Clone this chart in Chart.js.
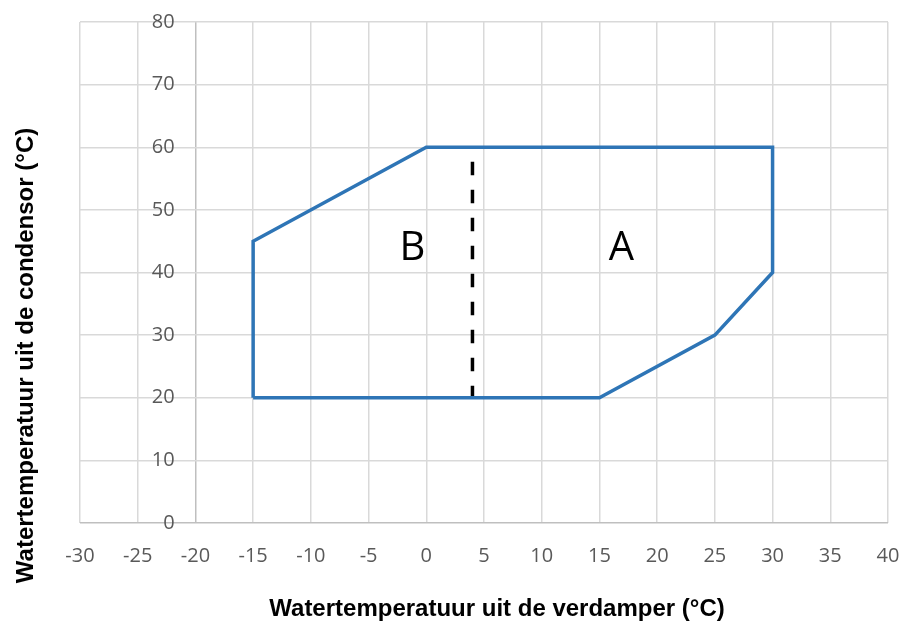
<!DOCTYPE html>
<html><head><meta charset="utf-8">
<script src="https://cdn.jsdelivr.net/npm/chart.js@4.4.0/dist/chart.umd.min.js"></script>
<style>html,body{margin:0;padding:0;background:#fff}canvas{display:block}</style>
</head><body>
<canvas id="c" width="902" height="621"></canvas>
<script>
const xTickValues = [-30,-25,-20,-15,-10,-5,0,5,10,15,20,25,30,35,40];
const yTickValues = [0,10,20,30,40,50,60,70,80];
const envelopeX = [-15,-15,0,30,30,25,15,-15];
const envelopeY = [20,45,60,60,40,30,20,20];
const splitX = [4,4];
const splitY = [57.7,20];
const regionNames = ['B','A'];
const regionX = [-1.2,16.9];
const regionY = [42,42];
const xTitle = 'Watertemperatuur uit de verdamper (°C)';
const yTitle = 'Watertemperatuur uit de condensor (°C)';
const yAxisCrossX = -20;
const xAxisCrossY = 0;
const yLabelAnchorX = -21.8;

const GRID = '#d9d9d9', AXIS = '#bfbfbf';
const tickFont = {family: '"Open Sans"', size: 20};
const targetArea = {left: 80, top: 22, right: 888, bottom: 523};

const textPlugin = {
  id: 'texts',
  afterDatasetsDraw(chart) {
    const ctx = chart.ctx, xs = chart.scales.x, ys = chart.scales.y;
    ctx.save();
    ctx.fillStyle = '#000';
    ctx.font = '40px "Open Sans"';
    ctx.textAlign = 'center';
    ctx.textBaseline = 'alphabetic';
    regionNames.forEach((t, i) => ctx.fillText(t, xs.getPixelForValue(regionX[i]), ys.getPixelForValue(regionY[i])));
    ctx.font = 'bold 24px "Liberation Sans"';
    ctx.fillText(xTitle, 497, 616);
    ctx.translate(33, 355.5);
    ctx.rotate(-Math.PI / 2);
    ctx.fillText(yTitle, 0, 0);
    ctx.restore();
  }
};

const chart = new Chart(document.getElementById('c'), {
  type: 'scatter',
  data: {
    datasets: [
      {
        data: envelopeX.map((x, i) => ({x, y: envelopeY[i]})),
        showLine: true, borderColor: '#2E75B6', borderWidth: 3.5,
        pointRadius: 0, fill: false, tension: 0, borderJoinStyle: 'miter'
      },
      {
        data: splitX.map((x, i) => ({x, y: splitY[i]})),
        showLine: true, borderColor: '#000', borderWidth: 3.5,
        borderDash: [13.5, 14.5], borderCapStyle: 'butt',
        pointRadius: 0, fill: false, tension: 0
      }
    ]
  },
  options: {
    responsive: false, animation: false, devicePixelRatio: 1,
    layout: {padding: {left: 80, right: 14, top: 22, bottom: 53}},
    plugins: {legend: {display: false}, tooltip: {enabled: false}},
    scales: {
      x: {
        type: 'linear', min: -30, max: 40, position: 'bottom',
        afterBuildTicks: s => { s.ticks = xTickValues.map(v => ({value: v})); },
        grid: {color: c => (c.tick && c.tick.value === yAxisCrossX) ? AXIS : GRID, lineWidth: 1.5,
               drawTicks: true, tickLength: 21, tickColor: 'rgba(0,0,0,0)'},
        border: {display: false},
        ticks: {font: tickFont, color: '#595959', padding: 0, maxRotation: 0, autoSkip: false}
      },
      y: {
        type: 'linear', min: 0, max: 80, position: 'left',
        afterBuildTicks: s => { s.ticks = yTickValues.map(v => ({value: v})); },
        grid: {color: c => (c.tick && c.tick.value === xAxisCrossY) ? AXIS : GRID, lineWidth: 1.5, drawTicks: false},
        border: {display: false},
        ticks: {display: false}
      },
      yl: {
        type: 'linear', min: 0, max: 80, position: {x: yLabelAnchorX},
        afterBuildTicks: s => { s.ticks = yTickValues.map(v => ({value: v})); },
        grid: {display: false, drawTicks: false},
        border: {display: false},
        ticks: {font: tickFont, color: '#595959', padding: 0, autoSkip: false}
      }
    }
  },
  plugins: [textPlugin]
});

for (let k = 0; k < 4; k++) {
  const a = chart.chartArea, p = chart.options.layout.padding;
  p.left += targetArea.left - a.left;
  p.top += targetArea.top - a.top;
  p.right += a.right - targetArea.right;
  p.bottom += a.bottom - targetArea.bottom;
  chart.update('none');
}
</script>
</body></html>
